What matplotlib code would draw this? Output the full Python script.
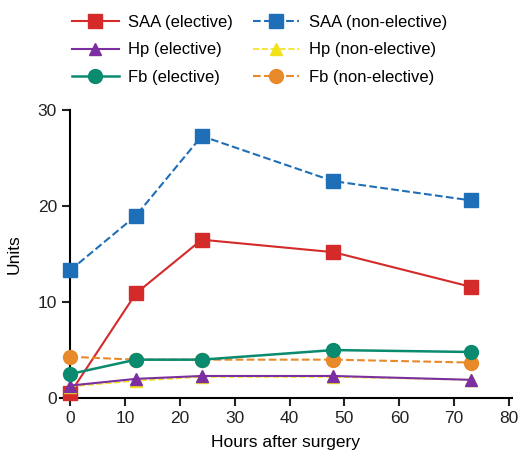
import matplotlib
matplotlib.use('Agg')
import matplotlib.pyplot as plt

plt.rcParams['font.family'] = ['Liberation Sans', 'DejaVu Sans']

hours = [0, 12, 24, 48, 73]
saa_el = [0.5, 10.9, 16.5, 15.2, 11.6]
saa_nonel = [13.3, 19.0, 27.3, 22.6, 20.6]
hp_el = [1.3, 2.0, 2.3, 2.3, 1.9]
hp_nonel = [1.2, 1.8, 2.2, 2.2, 1.9]
fb_el = [2.5, 4.0, 4.0, 5.0, 4.8]
fb_nonel = [4.3, 4.0, 4.0, 4.0, 3.7]

fig = plt.figure(figsize=(5.19, 4.57), dpi=100)
ax = fig.add_axes([0.116, 0.129, 0.87, 0.630])

h1, = ax.plot(hours, saa_el, '-s', color='#d42a2a', ms=10, lw=1.5, clip_on=False, label='SAA (elective)', zorder=3)
h2, = ax.plot(hours, saa_nonel, '--s', color='#1f6fb8', ms=10, lw=1.5, clip_on=False, label='SAA (non-elective)', zorder=3)
h4, = ax.plot(hours, hp_nonel, '--^', color='#f2e21a', ms=9, lw=1.2, clip_on=False, label='Hp (non-elective)', zorder=3)
h3, = ax.plot(hours, hp_el, '-^', color='#7b2fa0', ms=9, lw=1.5, clip_on=False, label='Hp (elective)', zorder=4)
h6, = ax.plot(hours, fb_nonel, '--o', color='#e8892a', ms=10, lw=1.5, clip_on=False, label='Fb (non-elective)', zorder=3)
h5, = ax.plot(hours, fb_el, '-o', color='#0a8a6e', ms=10, lw=1.8, clip_on=False, label='Fb (elective)', zorder=4)

ax.set_xlim(-1.8, 80.5)
ax.set_ylim(0, 30)
ax.set_xticks(range(0, 81, 10))
ax.set_yticks([0, 10, 20, 30])
ax.spines['top'].set_visible(False)
ax.spines['right'].set_visible(False)
ax.spines['left'].set_position(('data', 0))
for s in ('left', 'bottom'):
    ax.spines[s].set_linewidth(1.5)
ax.tick_params(direction='out', length=6, width=1.5, labelsize=12.5, colors='#222222')
ax.set_xlabel('Hours after surgery', fontsize=12.5, labelpad=6)
ax.set_ylabel('Units', fontsize=12.5)
ax.yaxis.set_label_coords(-0.085, 0.5)
ax.patch.set_visible(False)

fig.legend([h1, h3, h5, h2, h4, h6],
           ['SAA (elective)', 'Hp (elective)', 'Fb (elective)',
            'SAA (non-elective)', 'Hp (non-elective)', 'Fb (non-elective)'],
           ncol=2, loc='upper center', bbox_to_anchor=(0.5, 1.0), frameon=False,
           fontsize=12, handlelength=2.8, handletextpad=0.55, columnspacing=1.2,
           labelspacing=0.75)

fig.savefig('out.png', dpi=100)
